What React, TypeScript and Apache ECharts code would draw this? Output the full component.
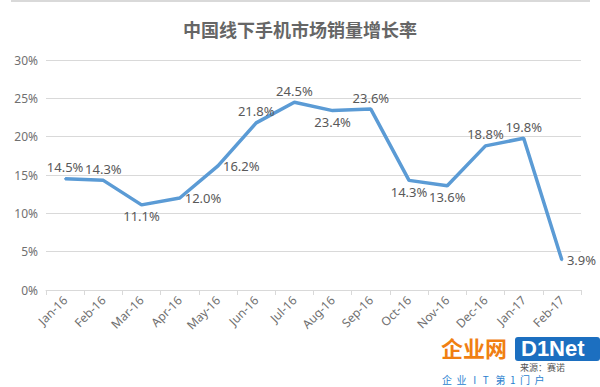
import React, { useEffect, useRef } from "react";
import * as echarts from "echarts";

const categories = ["Jan-16","Feb-16","Mar-16","Apr-16","May-16","Jun-16","Jul-16","Aug-16","Sep-16","Oct-16","Nov-16","Dec-16","Jan-17","Feb-17"];
const growth = [14.5, 14.3, 11.1, 12.0, 16.2, 21.8, 24.5, 23.4, 23.6, 14.3, 13.6, 18.8, 19.8, 3.9];
const labelPositions = ["top","top","bottom","right","right","top","top","bottom","top","bottom","bottom","top","top","right"];
const labelOffsets = [[2,-4],[17,0],[6,2],[14,0],[8,-3],[-13,0],[2,1],[10,3],[10,2],[-13,-2],[7,2],[-6,1],[10,2],[-4,2]];
const yTicks = [0, 5, 10, 15, 20, 25, 30];
const titleText = "中国线下手机市场销量增长率";

export default function App() {
  const ref = useRef<HTMLDivElement>(null);
  useEffect(() => {
    const chart = echarts.init(ref.current!, null, { renderer: "svg" });
    const labelFont = "'Noto Sans', sans-serif";
    chart.setOption({
      animation: false,
      backgroundColor: "#ffffff",
      title: {
        text: titleText,
        left: "center",
        top: 15,
        textStyle: { fontFamily: "'Noto Sans CJK SC', sans-serif", fontSize: 18, fontWeight: "bold", color: "#666666" },
      },
      grid: { left: 46, right: 19, top: 60, bottom: 97, containLabel: false },
      xAxis: {
        type: "category",
        data: categories,
        boundaryGap: true,
        axisLine: { lineStyle: { color: "#d9d9d9", width: 1 } },
        axisTick: { show: true, alignWithLabel: false, length: 5, lineStyle: { color: "#d9d9d9" } },
        axisLabel: { rotate: 45, color: "#707070", fontSize: 12, fontFamily: labelFont, margin: 8, interval: 0 },
      },
      yAxis: {
        type: "value",
        min: yTicks[0],
        max: yTicks[yTicks.length - 1],
        interval: 5,
        axisLine: { show: false },
        axisTick: { show: false },
        splitLine: { lineStyle: { color: "#d9d9d9", width: 1 } },
        axisLabel: { color: "#707070", fontSize: 12, fontFamily: labelFont, margin: 8, formatter: (v: number) => v + "%" },
      },
      series: [
        {
          type: "line",
          data: growth.map((v, i) => ({
            value: v,
            label: { show: true, position: labelPositions[i], offset: labelOffsets[i] },
          })),
          symbol: "circle",
          symbolSize: 2,
          showSymbol: true,
          showAllSymbol: true,
          lineStyle: { color: "#5b9bd5", width: 3.5 },
          itemStyle: { color: "#5b9bd5" },
          labelLayout: { hideOverlap: false },
          label: {
            show: true,
            color: "#595959",
            fontSize: 13,
            fontFamily: labelFont,
            distance: 4,
            formatter: (p: any) => Number(p.value).toFixed(1) + "%",
          },
        },
      ],
      graphic: [
        { type: "rect", shape: { x: 11, y: 0, width: 579, height: 2 }, style: { fill: "#d9d9d9" } },
        {
          type: "text", x: 441, y: 335,
          style: { text: "企业网", fontSize: 22, lineHeight: 24, fontWeight: "bold", fontFamily: "'Noto Sans CJK SC', sans-serif", fill: "#f07f12" },
        },
        { type: "rect", shape: { x: 515, y: 337, width: 85, height: 24, r: 3 }, style: { fill: "#1c6fc0" } },
        {
          type: "text", x: 521, y: 337,
          style: { text: "D1Net", fontSize: 22, lineHeight: 23, fontWeight: "bold", fontFamily: "'Liberation Sans', sans-serif", fill: "#ffffff" },
        },
        {
          type: "text", x: 520, y: 362,
          style: { text: "来源：赛诺", fontSize: 9, lineHeight: 10, fontFamily: "'Noto Sans CJK SC', sans-serif", fill: "#555555" },
        },
        {
          type: "text", x: 442, y: 374,
          style: { text: "企  业   I   T   第  1  门  户", fontSize: 10, lineHeight: 11, fontFamily: "'Noto Sans CJK SC', sans-serif", fill: "#2a7fcf" },
        },
      ],
    });
    return () => chart.dispose();
  }, []);
  return <div ref={ref} style={{ width: 600, height: 387, position: "absolute", left: 0, top: 0 }} />;
}
